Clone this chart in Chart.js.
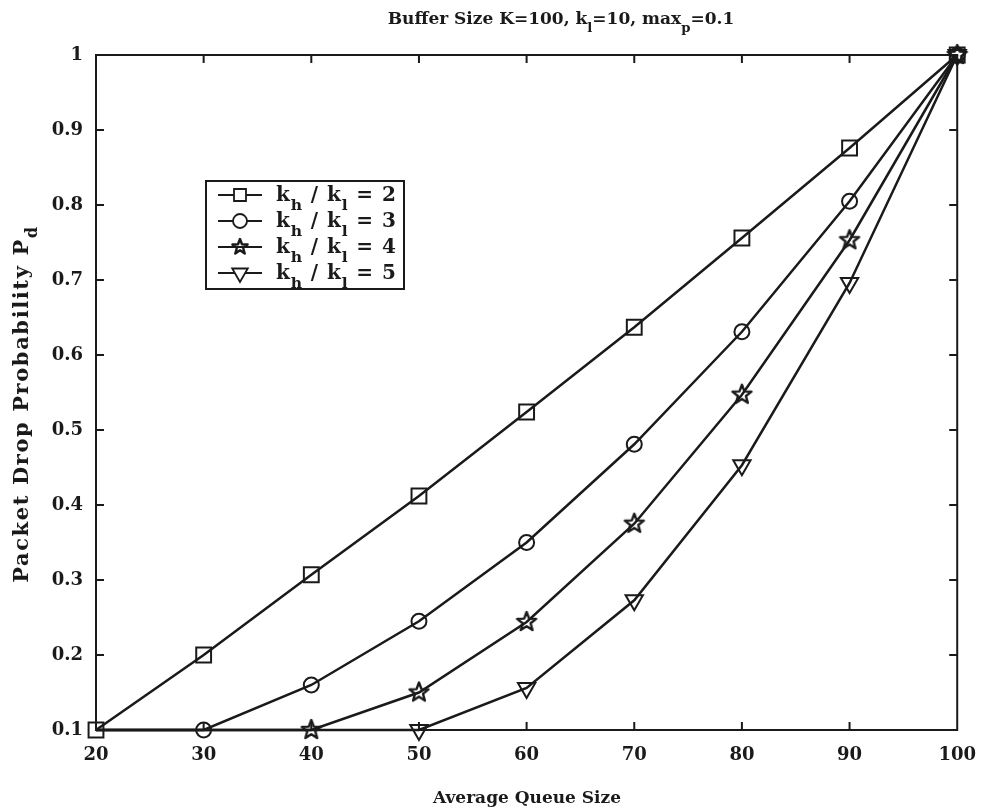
<!DOCTYPE html>
<html>
<head>
<meta charset="utf-8">
<title>Packet Drop Probability</title>
<script src="https://cdn.jsdelivr.net/npm/chart.js@4/dist/chart.umd.min.js"></script>
<style>
    html, body { margin: 0; padding: 0; background: #fff; }
    #wrap { width: 983px; height: 810px; position: relative; }
</style>
</head>
<body>
<div id="wrap"><canvas id="dropChart"></canvas></div>
<script>
// Average queue size (x) and drop probability for each k_h / k_l ratio
const queueSizes = [20, 30, 40, 50, 60, 70, 80, 90, 100];
const ratio2 = [0.1, 0.2, 0.307, 0.412, 0.524, 0.637, 0.756, 0.876, 1];
const ratio3 = [0.1, 0.1, 0.16, 0.245, 0.35, 0.481, 0.631, 0.805, 1];
const ratio4 = [0.1, 0.1, 0.1, 0.15, 0.244, 0.375, 0.547, 0.753, 1];
const ratio5 = [0.1, 0.1, 0.1, 0.1, 0.156, 0.273, 0.453, 0.696, 1];
const ratioNames = ["2", "3", "4", "5"];
// first index that gets a marker (earlier points only carry the flat 0.1 line)
const firstMarker = [0, 1, 2, 3];

const INK = "#1a1a1a";
const FONT = '"DejaVu Serif", "Liberation Serif", serif';

// pentagram marker as a small canvas
function makeStar(r) {
    const c = document.createElement("canvas");
    const s = Math.ceil(r * 2 + 4);
    c.width = s; c.height = s;
    const g = c.getContext("2d");
    g.translate(s / 2, s / 2);
    g.beginPath();
    for (let i = 0; i < 10; i++) {
        const rad = i % 2 === 0 ? r : r * 0.42;
        const a = -Math.PI / 2 + i * Math.PI / 5;
        const px = Math.cos(a) * rad, py = Math.sin(a) * rad;
        if (i === 0) g.moveTo(px, py); else g.lineTo(px, py);
    }
    g.closePath();
    g.lineWidth = 2.4;
    g.lineJoin = "round";
    g.strokeStyle = INK;
    g.stroke();
    return c;
}
const starMark = makeStar(10);
const starSmall = makeStar(8);

const markers = [
    { style: "rect",     radius: 10.5, rotation: 0 },
    { style: "circle",   radius: 7.5,  rotation: 0 },
    { style: starMark,   radius: 9,    rotation: 0 },
    { style: "triangle", radius: 10,   rotation: 180 }
];

const seriesValues = [ratio2, ratio3, ratio4, ratio5];

const datasets = seriesValues.map((vals, i) => ({
    label: "k_h / k_l = " + ratioNames[i],
    data: queueSizes.map((q, j) => ({ x: q, y: vals[j] })),
    borderColor: INK,
    backgroundColor: "rgba(0,0,0,0)",
    borderWidth: 2.5,
    tension: 0,
    clip: false,
    pointStyle: markers[i].style,
    pointRotation: markers[i].rotation,
    pointBorderColor: INK,
    pointBorderWidth: 2,
    pointBackgroundColor: "rgba(0,0,0,0)",
    pointRadius: ctx => ctx.dataIndex >= firstMarker[i] ? markers[i].radius : 0,
    pointHoverRadius: ctx => ctx.dataIndex >= firstMarker[i] ? markers[i].radius : 0
}));

/* -------- text with subscripts -------- */

function richWidth(ctx, parts, size, weight) {
    let w = 0;
    parts.forEach(p => {
        ctx.font = `${weight} ${p.sub ? size * 0.78 : size}px ${FONT}`;
        w += ctx.measureText(p.t).width;
    });
    return w;
}

function drawRich(ctx, parts, x, y, size, weight) {
    ctx.textBaseline = "alphabetic";
    ctx.textAlign = "left";
    let cx = x;
    parts.forEach(p => {
        const fs = p.sub ? size * 0.78 : size;
        ctx.font = `${weight} ${fs}px ${FONT}`;
        ctx.fillText(p.t, cx, p.sub ? y + size * 0.45 : y);
        cx += ctx.measureText(p.t).width;
    });
}

const titleParts = [
    { t: "Buffer Size K=100, k" }, { t: "l", sub: true },
    { t: "=10, max" }, { t: "p", sub: true }, { t: "=0.1" }
];
const yTitleParts = [{ t: "Packet Drop Probability P" }, { t: "d", sub: true }];
const xTitle = "Average Queue Size";

function legendParts(n) {
    return [{ t: "k" }, { t: "h", sub: true }, { t: " / k" }, { t: "l", sub: true }, { t: " = " + n }];
}

function drawMarker(ctx, i, x, y) {
    ctx.save();
    ctx.strokeStyle = INK;
    ctx.lineWidth = 1.8;
    ctx.fillStyle = "#fff";
    ctx.beginPath();
    if (i === 0) {
        ctx.rect(x - 6, y - 6, 12, 12);
        ctx.fill(); ctx.stroke();
    } else if (i === 1) {
        ctx.arc(x, y, 7, 0, Math.PI * 2);
        ctx.fill(); ctx.stroke();
    } else if (i === 2) {
        ctx.drawImage(starSmall, x - starSmall.width / 2, y - starSmall.height / 2);
    } else {
        const r = 9;
        ctx.moveTo(x, y + r);
        ctx.lineTo(x - r * Math.sin(Math.PI / 3), y - r * 0.5);
        ctx.lineTo(x + r * Math.sin(Math.PI / 3), y - r * 0.5);
        ctx.closePath();
        ctx.fill(); ctx.stroke();
    }
    ctx.restore();
}

/* -------- frame, ticks, titles and legend -------- */

const decorPlugin = {
    id: "decor",
    afterDraw(chart) {
        const ctx = chart.ctx;
        const a = chart.chartArea;
        const xs = chart.scales.x, ys = chart.scales.y;
        ctx.save();
        ctx.strokeStyle = INK;
        ctx.fillStyle = INK;

        // axes box with inward ticks on all sides
        ctx.lineWidth = 2;
        ctx.strokeRect(a.left, a.top, a.right - a.left, a.bottom - a.top);
        const tl = 8;
        ctx.beginPath();
        xs.ticks.forEach(t => {
            const px = xs.getPixelForValue(t.value);
            if (Math.abs(px - a.left) < 1 || Math.abs(px - a.right) < 1) return;
            ctx.moveTo(px, a.bottom); ctx.lineTo(px, a.bottom - tl);
            ctx.moveTo(px, a.top);    ctx.lineTo(px, a.top + tl);
        });
        ys.ticks.forEach(t => {
            const py = ys.getPixelForValue(t.value);
            if (Math.abs(py - a.top) < 1 || Math.abs(py - a.bottom) < 1) return;
            ctx.moveTo(a.left, py);  ctx.lineTo(a.left + tl, py);
            ctx.moveTo(a.right, py); ctx.lineTo(a.right - tl, py);
        });
        ctx.stroke();

        // title
        const ts = 17;
        const tw = richWidth(ctx, titleParts, ts, "bold");
        drawRich(ctx, titleParts, 561 - tw / 2, 24, ts, "bold");

        // x axis title
        ctx.font = `bold 17px ${FONT}`;
        ctx.textAlign = "center";
        ctx.textBaseline = "alphabetic";
        ctx.fillText(xTitle, 527, 803);

        // y axis title, rotated
        const ysz = 21;
        ctx.letterSpacing = "1.6px";
        const yw = richWidth(ctx, yTitleParts, ysz, "600");
        ctx.save();
        ctx.translate(28, 404);
        ctx.rotate(-Math.PI / 2);
        drawRich(ctx, yTitleParts, -yw / 2, 0, ysz, "600");
        ctx.restore();
        ctx.letterSpacing = "0px";

        // legend box
        const lx = 206, ly = 181, lw = 198, lh = 108;
        ctx.fillStyle = "#fff";
        ctx.fillRect(lx, ly, lw, lh);
        ctx.lineWidth = 2;
        ctx.strokeRect(lx, ly, lw, lh);
        ratioNames.forEach((n, i) => {
            const cy = ly + 14 + i * 26;
            ctx.lineWidth = 2;
            ctx.strokeStyle = INK;
            ctx.beginPath();
            ctx.moveTo(218, cy); ctx.lineTo(262, cy);
            ctx.stroke();
            drawMarker(ctx, i, 240, cy);
            ctx.fillStyle = INK;
            ctx.letterSpacing = "0.9px";
            drawRich(ctx, legendParts(n), 276, cy + 6, 20, "bold");
            ctx.letterSpacing = "0px";
        });
        ctx.restore();
    }
};

new Chart(document.getElementById("dropChart"), {
    type: "line",
    data: { datasets },
    options: {
        responsive: true,
        maintainAspectRatio: false,
        animation: false,
        layout: { padding: { top: 55, right: 25, left: 0, bottom: 0 } },
        plugins: {
            legend: { display: false },
            title: { display: false },
            tooltip: { enabled: false }
        },
        scales: {
            x: {
                type: "linear",
                min: 20,
                max: 100,
                grid: { display: false },
                border: { display: false },
                ticks: {
                    stepSize: 10,
                    color: INK,
                    padding: 7,
                    maxRotation: 0,
                    font: { family: FONT, size: 18, weight: "bold" }
                },
                afterFit: s => { s.height = 80; }
            },
            y: {
                type: "linear",
                min: 0.1,
                max: 1,
                grid: { display: false },
                border: { display: false },
                ticks: {
                    stepSize: 0.1,
                    color: INK,
                    padding: 5,
                    font: { family: FONT, size: 18, weight: "bold" },
                    callback: v => String(Number(v.toFixed(1)))
                },
                afterFit: s => { s.width = 96; }
            }
        }
    },
    plugins: [decorPlugin]
});
</script>
</body>
</html>
